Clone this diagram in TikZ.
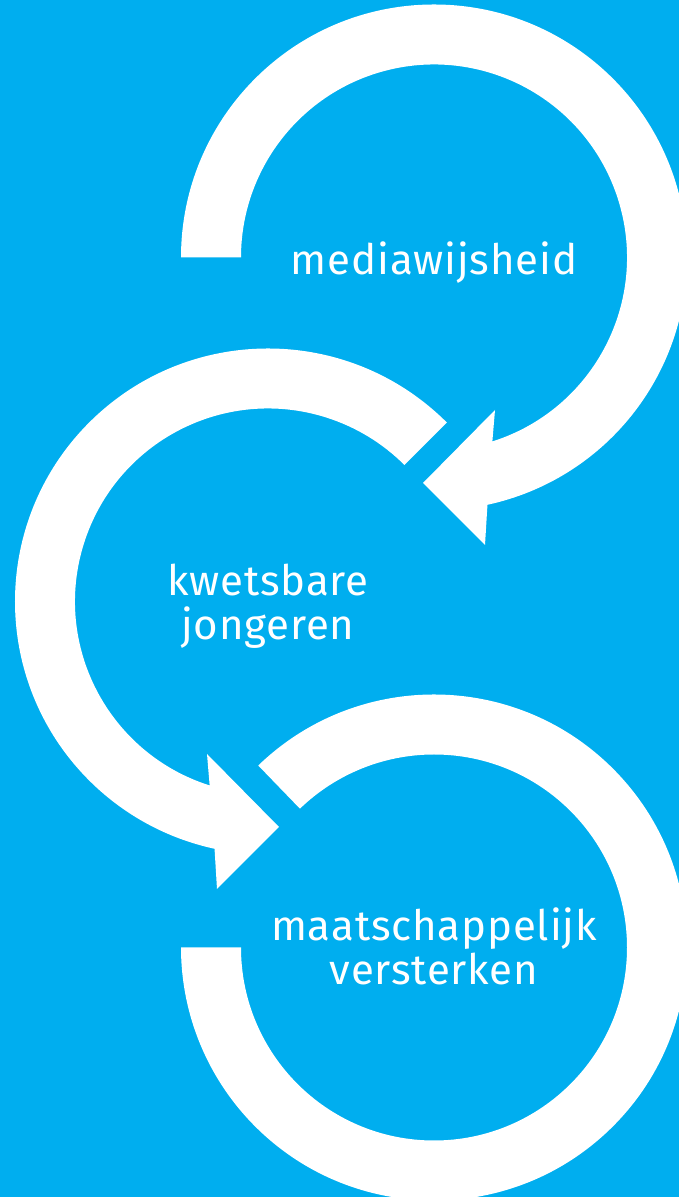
\documentclass[tikz,border=0pt]{standalone}
\usepackage{fontspec}
\setmainfont[LetterSpace=2.0]{Fira Sans}
\usetikzlibrary{calc}
\definecolor{bgblue}{RGB}{0,174,239}
\tikzset{
  ring/.style={fill=white, draw=none},
  lbl/.style={text=white, inner sep=0pt, font=\fontsize{42}{44}\selectfont}
}
\begin{document}
\begin{tikzpicture}[x=1pt,y=1pt]
\useasboundingbox (0,0) rectangle (679,1197);
\clip (0,0) rectangle (679,1197);
\fill[bgblue] (0,0) rectangle (679,1197);
\coordinate (c1) at (434,939.5);
\coordinate (c2) at (268,595.5);
\coordinate (c3) at (434,249.5);
% arc 1 with arrow head
\fill[ring] ($(c1)+(180:253)$) arc[start angle=180, end angle=-77.8, radius=253pt]
  -- ($(c1)+(51,-287.5)$) -- ($(c1)+(-11,-225.5)$) -- ($(c1)+(61,-152.5)$)
  -- ($(c1)+(-72.4:193)$) arc[start angle=-72.4, end angle=180, radius=193pt] -- cycle;
% arc 2 with arrow head
\fill[ring] ($(c2)+(45:253)$) arc[start angle=45, end angle=257.8, radius=253pt]
  -- ($(c2)+(-51,-287.5)$) -- ($(c2)+(11,-225.5)$) -- ($(c2)+(-61,-152.5)$)
  -- ($(c2)+(252.4:193)$) arc[start angle=252.4, end angle=45, radius=193pt] -- cycle;
% arc 3
\fill[ring] ($(c3)+(134:253)$) arc[start angle=134, end angle=-180, radius=253pt]
  -- ($(c3)+(180:193)$) arc[start angle=-180, end angle=134, radius=193pt] -- cycle;
% labels
\node[lbl, anchor=base] (t1) at ($(c1)+(0,-17.5)$) {mediawijsheid};
\node[lbl, anchor=base, align=center] (t2) at ($(c2)+(0,-38.5)$) {kwetsbare\\jongeren};
\node[lbl, anchor=base, align=center] (t3) at ($(c3)+(0,-37.5)$) {maatschappelijk\\versterken};
\end{tikzpicture}
\end{document}
